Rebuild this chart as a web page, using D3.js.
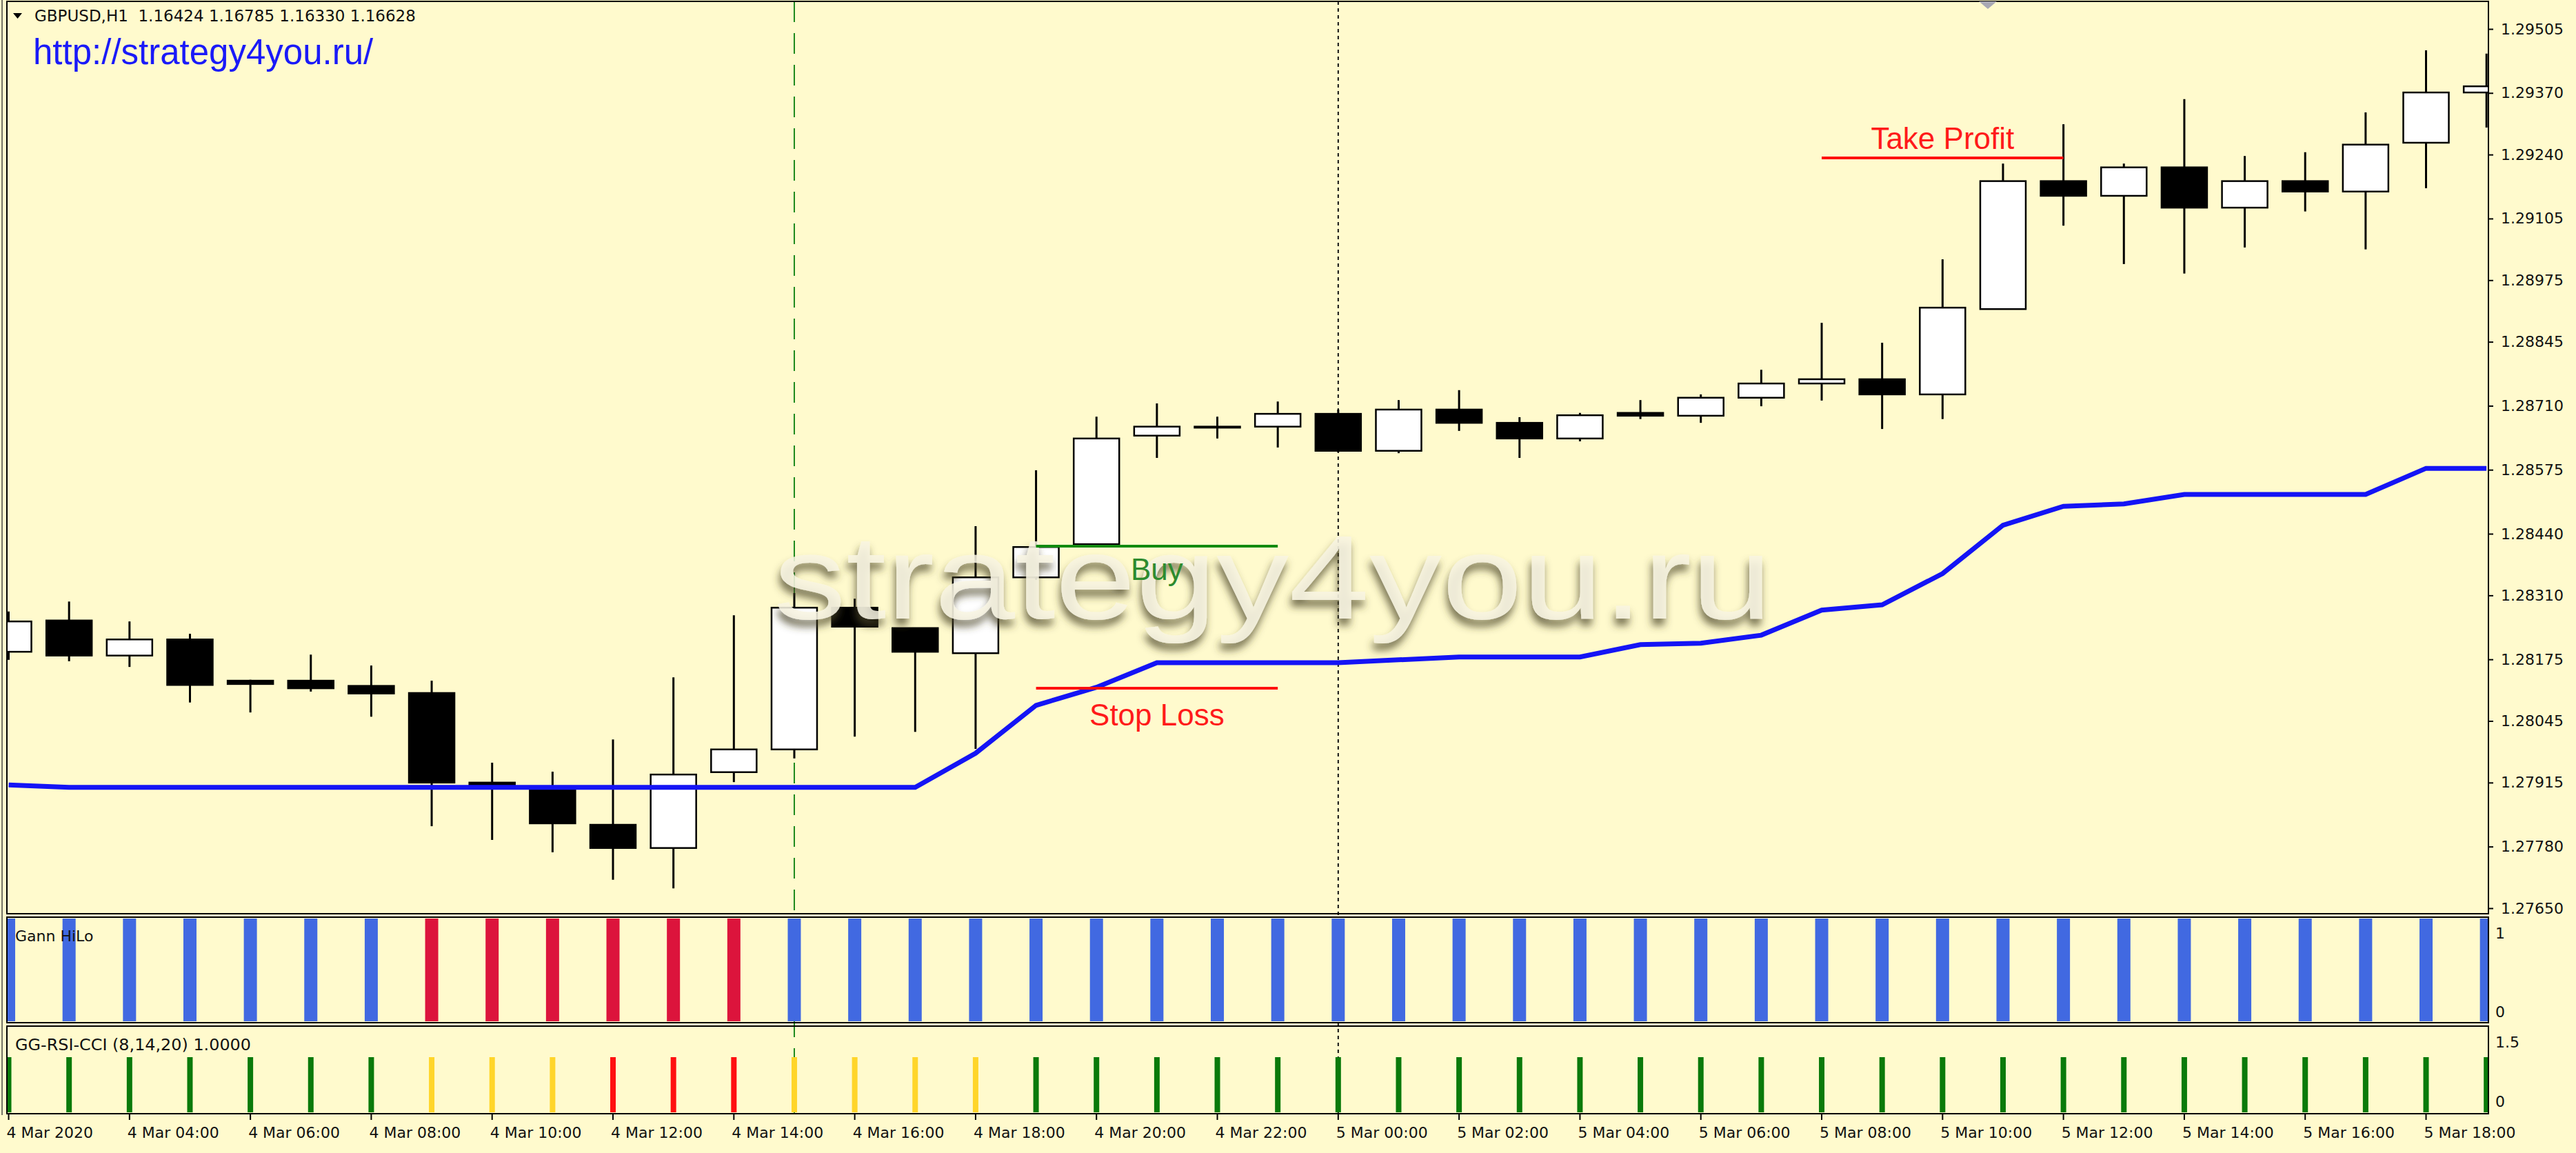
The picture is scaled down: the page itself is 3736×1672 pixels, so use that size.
<!DOCTYPE html>
<html>
<head>
<meta charset="utf-8">
<script src="https://cdn.jsdelivr.net/npm/d3@7"></script>
<style>
  html, body { margin: 0; padding: 0; background: #FFFACD; }
  svg { display: block; }
</style>
</head>
<body>
<svg id="chart"></svg>
<script>
// H1 bars, GBPUSD
const hours = [
  "4 Mar 02:00", "4 Mar 03:00", "4 Mar 04:00", "4 Mar 05:00", "4 Mar 06:00", "4 Mar 07:00",
  "4 Mar 08:00", "4 Mar 09:00", "4 Mar 10:00", "4 Mar 11:00", "4 Mar 12:00", "4 Mar 13:00",
  "4 Mar 14:00", "4 Mar 15:00", "4 Mar 16:00", "4 Mar 17:00", "4 Mar 18:00", "4 Mar 19:00",
  "4 Mar 20:00", "4 Mar 21:00", "4 Mar 22:00", "4 Mar 23:00",
  "5 Mar 00:00", "5 Mar 01:00", "5 Mar 02:00", "5 Mar 03:00", "5 Mar 04:00", "5 Mar 05:00",
  "5 Mar 06:00", "5 Mar 07:00", "5 Mar 08:00", "5 Mar 09:00", "5 Mar 10:00", "5 Mar 11:00",
  "5 Mar 12:00", "5 Mar 13:00", "5 Mar 14:00", "5 Mar 15:00", "5 Mar 16:00", "5 Mar 17:00",
  "5 Mar 18:00", "5 Mar 19:00"
];

const open = [
  1.28191, 1.28257, 1.28183, 1.28217, 1.28130, 1.28130, 1.28119, 1.28104, 1.27915, 1.27902,
  1.27826, 1.27777, 1.27937, 1.27985, 1.28284, 1.28241, 1.28188, 1.28348, 1.28418, 1.28647,
  1.28666, 1.28666, 1.28693, 1.28615, 1.28702, 1.28674, 1.28641, 1.28695, 1.28689, 1.28727,
  1.28757, 1.28766, 1.28734, 1.28914, 1.29184, 1.29153, 1.29213, 1.29128, 1.29184, 1.29162,
  1.29265, 1.29371
];
const high = [
  1.28276, 1.28297, 1.28255, 1.28229, 1.28132, 1.28185, 1.28162, 1.28130, 1.27957, 1.27938,
  1.28006, 1.28137, 1.28268, 1.28315, 1.28303, 1.28242, 1.28456, 1.28574, 1.28687, 1.28715,
  1.28687, 1.28719, 1.28702, 1.28722, 1.28743, 1.28686, 1.28695, 1.28722, 1.28734, 1.28786,
  1.28885, 1.28843, 1.29019, 1.29221, 1.29304, 1.29221, 1.29357, 1.29237, 1.29245, 1.29329,
  1.29460, 1.29453
];
const low = [
  1.28174, 1.28171, 1.28159, 1.28084, 1.28063, 1.28107, 1.28054, 1.27823, 1.27794, 1.27768,
  1.27710, 1.27692, 1.27916, 1.27966, 1.28012, 1.28022, 1.27986, 1.28343, 1.28417, 1.28600,
  1.28641, 1.28622, 1.28612, 1.28610, 1.28657, 1.28600, 1.28635, 1.28682, 1.28674, 1.28709,
  1.28721, 1.28661, 1.28682, 1.28914, 1.29090, 1.29009, 1.28989, 1.29044, 1.29120, 1.29040,
  1.29169, 1.29297
];
const close = [
  1.28255, 1.28183, 1.28217, 1.28121, 1.28123, 1.28114, 1.28103, 1.27915, 1.27910, 1.27829,
  1.27777, 1.27932, 1.27985, 1.28284, 1.28244, 1.28191, 1.28348, 1.28412, 1.28641, 1.28666,
  1.28665, 1.28693, 1.28615, 1.28702, 1.28674, 1.28641, 1.28690, 1.28689, 1.28727, 1.28757,
  1.28766, 1.28734, 1.28917, 1.29184, 1.29153, 1.29213, 1.29128, 1.29184, 1.29162, 1.29261,
  1.29371, 1.29384
];

// Gann HiLo line on the price chart
const gannLine = [
  1.27910, 1.27905, 1.27905, 1.27905, 1.27905, 1.27905, 1.27905, 1.27905, 1.27905, 1.27905,
  1.27905, 1.27905, 1.27905, 1.27905, 1.27905, 1.27905, 1.27977, 1.28078, 1.28116, 1.28168,
  1.28168, 1.28168, 1.28168, 1.28174, 1.28180, 1.28180, 1.28180, 1.28206, 1.28209, 1.28226,
  1.28279, 1.28290, 1.28356, 1.28458, 1.28498, 1.28503, 1.28523, 1.28523, 1.28523, 1.28523,
  1.28578, 1.28578
];

// Gann HiLo histogram: 1 = up trend, -1 = down trend
const gannTrend = [
  1, 1, 1, 1, 1, 1, 1, -1, -1, -1, -1, -1, -1, 1, 1, 1, 1, 1, 1, 1, 1,
  1, 1, 1, 1, 1, 1, 1, 1, 1, 1, 1, 1, 1, 1, 1, 1, 1, 1, 1, 1, 1
];

// GG-RSI-CCI: 2 = buy (green), 1 = flat (yellow), 0 = sell (red)
const rsiCci = [
  2, 2, 2, 2, 2, 2, 2, 1, 1, 1, 0, 0, 0, 1, 1, 1, 1, 2, 2, 2, 2,
  2, 2, 2, 2, 2, 2, 2, 2, 2, 2, 2, 2, 2, 2, 2, 2, 2, 2, 2, 2, 2
];

// axis ticks
const priceTicks = [
  1.27650, 1.27780, 1.27915, 1.28045, 1.28175, 1.28310, 1.28440, 1.28575,
  1.28710, 1.28845, 1.28975, 1.29105, 1.29240, 1.29370, 1.29505
];
const timeTicks = [
  "4 Mar 02:00", "4 Mar 04:00", "4 Mar 06:00", "4 Mar 08:00", "4 Mar 10:00", "4 Mar 12:00",
  "4 Mar 14:00", "4 Mar 16:00", "4 Mar 18:00", "4 Mar 20:00", "4 Mar 22:00",
  "5 Mar 00:00", "5 Mar 02:00", "5 Mar 04:00", "5 Mar 06:00", "5 Mar 08:00", "5 Mar 10:00",
  "5 Mar 12:00", "5 Mar 14:00", "5 Mar 16:00", "5 Mar 18:00"
];
const timeTickLabels = [
  "4 Mar 2020", "4 Mar 04:00", "4 Mar 06:00", "4 Mar 08:00", "4 Mar 10:00", "4 Mar 12:00",
  "4 Mar 14:00", "4 Mar 16:00", "4 Mar 18:00", "4 Mar 20:00", "4 Mar 22:00",
  "5 Mar 00:00", "5 Mar 02:00", "5 Mar 04:00", "5 Mar 06:00", "5 Mar 08:00", "5 Mar 10:00",
  "5 Mar 12:00", "5 Mar 14:00", "5 Mar 16:00", "5 Mar 18:00"
];

// trade levels drawn on the chart
const levelNames = ["Take Profit", "Buy", "Stop Loss"];
const levelPrices = [1.29233, 1.28414, 1.28114];
const levelFrom = ["5 Mar 08:00", "4 Mar 19:00", "4 Mar 19:00"];
const levelTo = ["5 Mar 12:00", "4 Mar 23:00", "4 Mar 23:00"];

// vertical markers: entry bar and day separator
const entryHour = "4 Mar 15:00";
const dayHour = "5 Mar 00:00";

// ---------------------------------------------------------------
const W = 3736, H = 1672;
const left = 10, right = 3609;
const main = { top: 2, bottom: 1325 };
const gann = { top: 1330, bottom: 1483 };
const rsi = { top: 1488, bottom: 1615 };
const axisFont = "'DejaVu Sans', Verdana, sans-serif";
const arial = "'Liberation Sans', Arial, sans-serif";

const svg = d3.select("#chart")
  .attr("width", W)
  .attr("height", H)
  .style("background", "#FFFACD");

const defs = svg.append("defs");
[["clip-main", main], ["clip-gann", gann], ["clip-rsi", rsi]].forEach(([id, p]) => {
  defs.append("clipPath").attr("id", id)
    .append("rect")
    .attr("x", left).attr("y", p.top)
    .attr("width", right - left).attr("height", p.bottom - p.top);
});

const shadow = defs.append("filter").attr("id", "wm-shadow")
  .attr("x", "-10%").attr("y", "-30%").attr("width", "120%").attr("height", "160%");
shadow.append("feDropShadow")
  .attr("dx", -2).attr("dy", 10).attr("stdDeviation", 6)
  .attr("flood-color", "#4a4328").attr("flood-opacity", 0.85);

// scales
const x = d3.scaleBand()
  .domain(hours)
  .range([-31.3, -31.3 + hours.length * 87.65])
  .padding(0);
const cx = h => x(h) + x.bandwidth() / 2;

const y = d3.scaleLinear().domain([1.27650, 1.29505]).range([1317, 42]);
const yGann = d3.scaleLinear().domain([0, 1]).range([gann.bottom - 2, gann.top + 2]);
const yRsi = d3.scaleLinear().domain([0, 1.5]).range([rsi.bottom - 2, rsi.bottom - 122]);

// window edge line
svg.append("line")
  .attr("x1", 3).attr("x2", 3).attr("y1", 0).attr("y2", rsi.bottom + 2)
  .attr("stroke", "#444").attr("stroke-width", 1.5);

// vertical markers (behind everything)
const markers = svg.append("g");
markers.append("line")
  .attr("x1", cx(entryHour)).attr("x2", cx(entryHour))
  .attr("y1", main.top).attr("y2", rsi.bottom)
  .attr("stroke", "#1f8a1f").attr("stroke-width", 2)
  .attr("stroke-dasharray", "30,16");
markers.append("line")
  .attr("x1", cx(dayHour)).attr("x2", cx(dayHour))
  .attr("y1", main.top).attr("y2", rsi.bottom)
  .attr("stroke", "#111").attr("stroke-width", 2)
  .attr("stroke-dasharray", "5,5");

// ---- main price panel
const gMain = svg.append("g").attr("clip-path", "url(#clip-main)");
const bars = hours.map((h, i) => ({ h, o: open[i], hi: high[i], lo: low[i], c: close[i] }));

gMain.selectAll(".wick")
  .data(bars)
  .enter().append("line")
  .attr("class", "wick")
  .attr("x1", d => cx(d.h)).attr("x2", d => cx(d.h))
  .attr("y1", d => y(d.hi)).attr("y2", d => y(d.lo))
  .attr("stroke", "#000").attr("stroke-width", 3);

const bodyW = 66;
gMain.selectAll(".body")
  .data(bars)
  .enter().append("rect")
  .attr("class", "body")
  .attr("x", d => cx(d.h) - bodyW / 2)
  .attr("y", d => y(Math.max(d.o, d.c)))
  .attr("width", bodyW)
  .attr("height", d => Math.max(Math.abs(y(d.o) - y(d.c)), 1.5))
  .attr("fill", d => d.c > d.o ? "#fff" : "#000")
  .attr("stroke", "#000").attr("stroke-width", 2.5);

// Gann HiLo line
gMain.append("path")
  .datum(gannLine)
  .attr("fill", "none")
  .attr("stroke", "#1414F5")
  .attr("stroke-width", 7)
  .attr("d", d3.line().x((d, i) => cx(hours[i])).y(d => y(d)));

// watermark
svg.append("text")
  .attr("x", 1122).attr("y", 897)
  .attr("textLength", 1448).attr("lengthAdjust", "spacingAndGlyphs")
  .attr("font-family", arial).attr("font-size", 173)
  .attr("fill", "#F8F4E2").attr("fill-opacity", 0.85)
  .attr("filter", "url(#wm-shadow)")
  .text("strategy4you.ru");

// trade levels
const levelColor = { "Take Profit": "#FF0E0E", "Buy": "#108A10", "Stop Loss": "#FF0E0E" };
const textColor = { "Take Profit": "#FF1A1A", "Buy": "#2E8B2E", "Stop Loss": "#FF1A1A" };
const textShift = { "Take Profit": -13, "Buy": 49, "Stop Loss": 54 };
levelNames.forEach((name, i) => {
  const x1 = cx(levelFrom[i]), x2 = cx(levelTo[i]);
  svg.append("line")
    .attr("x1", x1).attr("x2", x2)
    .attr("y1", y(levelPrices[i])).attr("y2", y(levelPrices[i]))
    .attr("stroke", levelColor[name]).attr("stroke-width", 4);
  svg.append("text")
    .attr("x", (x1 + x2) / 2)
    .attr("y", y(levelPrices[i]) + textShift[name])
    .attr("text-anchor", "middle")
    .attr("font-family", arial).attr("font-size", 44)
    .attr("fill", textColor[name])
    .text(name);
});

// ---- Gann HiLo histogram
const gGann = svg.append("g").attr("clip-path", "url(#clip-gann)");
gGann.selectAll("rect")
  .data(gannTrend)
  .enter().append("rect")
  .attr("x", (d, i) => cx(hours[i]) - 9.5)
  .attr("y", yGann(1))
  .attr("width", 19)
  .attr("height", yGann(0) - yGann(1))
  .attr("fill", d => d > 0 ? "#4169E1" : "#DC143C");

// ---- GG-RSI-CCI histogram
const rsiColors = ["#FF1010", "#FFD52A", "#0A7A0A"];
const gRsi = svg.append("g").attr("clip-path", "url(#clip-rsi)");
gRsi.selectAll("rect")
  .data(rsiCci)
  .enter().append("rect")
  .attr("x", (d, i) => cx(hours[i]) - 4)
  .attr("y", yRsi(1))
  .attr("width", 8)
  .attr("height", yRsi(0) - yRsi(1))
  .attr("fill", d => rsiColors[d]);

// panel frames
[main, gann, rsi].forEach(p => {
  svg.append("rect")
    .attr("x", left).attr("y", p.top)
    .attr("width", right - left).attr("height", p.bottom - p.top)
    .attr("fill", "none")
    .attr("stroke", "#000").attr("stroke-width", 2);
});

// ---- axes
const yAxis = svg.append("g")
  .attr("transform", `translate(${right},0)`)
  .call(d3.axisRight(y).tickValues(priceTicks).tickFormat(d => d.toFixed(5)).tickSize(7).tickPadding(11));
yAxis.select(".domain").remove();
yAxis.selectAll("line").attr("stroke", "#000").attr("stroke-width", 2);
yAxis.selectAll("text").attr("font-family", axisFont).attr("font-size", 22).attr("fill", "#111");

const xAxis = svg.append("g")
  .attr("transform", `translate(0,${rsi.bottom})`)
  .call(d3.axisBottom(x).tickValues(timeTicks).tickFormat((d, i) => timeTickLabels[i]).tickSize(9).tickPadding(10));
xAxis.select(".domain").remove();
xAxis.selectAll("line").attr("stroke", "#000").attr("stroke-width", 2);
xAxis.selectAll("text")
  .attr("x", -3)
  .attr("text-anchor", "start")
  .attr("font-family", axisFont).attr("font-size", 22).attr("fill", "#111");

// sub-window scales on the right
const subLabels = [
  { t: "1", y: yGann(1) + 21 }, { t: "0", y: yGann(0) - 14 },
  { t: "1.5", y: yRsi(1.5) + 18 }, { t: "0", y: yRsi(0) - 16 }
];
svg.selectAll(".sub-label")
  .data(subLabels)
  .enter().append("text")
  .attr("class", "sub-label")
  .attr("x", 3619).attr("y", d => d.y).attr("dy", "0.35em")
  .attr("font-family", axisFont).attr("font-size", 22).attr("fill", "#111")
  .text(d => d.t);

// window titles
svg.append("path")
  .attr("d", "M19,19 L32,19 L25.5,27 Z")
  .attr("fill", "#000");
svg.append("text")
  .attr("x", 50).attr("y", 31)
  .attr("font-family", axisFont).attr("font-size", 23).attr("fill", "#111")
  .style("white-space", "pre")
  .text("GBPUSD,H1  1.16424 1.16785 1.16330 1.16628");
svg.append("text")
  .attr("x", 48).attr("y", 93)
  .attr("font-family", arial).attr("font-size", 51).attr("fill", "#1A1AF8")
  .text("http://strategy4you.ru/");
svg.append("text")
  .attr("x", 22).attr("y", 1365)
  .attr("font-family", axisFont).attr("font-size", 22).attr("fill", "#111")
  .text("Gann HiLo");
svg.append("text")
  .attr("x", 22).attr("y", 1523)
  .attr("textLength", 342).attr("lengthAdjust", "spacingAndGlyphs")
  .attr("font-family", axisFont).attr("font-size", 23).attr("fill", "#111")
  .text("GG-RSI-CCI (8,14,20) 1.0000");

// chart shift marker
svg.append("path")
  .attr("d", "M2870,2 L2896,2 L2883,13 Z")
  .attr("fill", "#A8A8B4");
</script>
</body>
</html>
